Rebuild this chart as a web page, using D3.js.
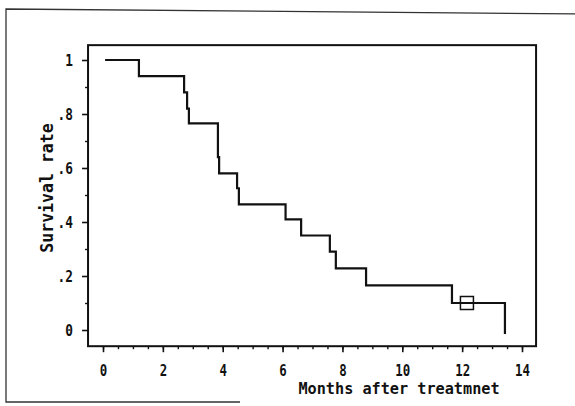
<!DOCTYPE html>
<html>
<head>
<meta charset="utf-8">
<script src="https://cdn.jsdelivr.net/npm/d3@7/dist/d3.min.js"></script>
<style>
  html, body { margin: 0; padding: 0; background: #fff; }
  svg { display: block; }
  text { font-family: "DejaVu Sans Mono", "Liberation Mono", monospace; fill: #111; font-weight: bold; }
</style>
</head>
<body>
<div class="chart"></div>
<script>
// Kaplan-Meier curve
const eventTimes = [0.07, 1.2, 2.71, 2.81, 2.87, 3.84, 3.88, 4.48, 4.54, 6.1, 6.62, 7.58, 7.78, 8.79, 11.66, 13.43];
const survival   = [1.0, 0.94, 0.88, 0.82, 0.765, 0.64, 0.58, 0.525, 0.465, 0.41, 0.35, 0.29, 0.228, 0.165, 0.1, -0.015];
const censorTimes = [12.16];
const censorValues = [0.1];

const xTicks = [0, 2, 4, 6, 8, 10, 12, 14];
const xMinor = d3.range(0, 14.01, 0.5);
const yTicks = [0, 0.2, 0.4, 0.6, 0.8, 1];
const yTickLabels = ['0', '.2', '.4', '.6', '.8', '1'];
const yMinor = [0.1, 0.3, 0.5, 0.7, 0.9];

const svgWidth = 575;
const svgHeight = 406;

const x = d3.scaleLinear().domain([0, 14]).range([103, 522]);
const y = d3.scaleLinear().domain([0, 1]).range([330, 60]);

const boxLeft = x(-0.5), boxRight = x(14.47);
const boxTop = y(1.055), boxBottom = y(-0.06);

const svg = d3.select('.chart')
    .append('svg')
    .attr('width', svgWidth)
    .attr('height', svgHeight);

// outer frame of the scanned figure
svg.append('path')
    .attr('d', `M580,14 L6,9 L6,402 L240,402`)
    .attr('fill', 'none')
    .attr('stroke', '#333')
    .attr('stroke-width', 1.3);

// plot box
svg.append('rect')
    .attr('x', boxLeft)
    .attr('y', boxTop)
    .attr('width', boxRight - boxLeft)
    .attr('height', boxBottom - boxTop)
    .attr('fill', 'none')
    .attr('stroke', '#111')
    .attr('stroke-width', 2);

// x axis
const xAxis = svg.append('g')
    .attr('transform', `translate(0,${boxBottom})`)
    .call(d3.axisBottom(x).tickValues(xTicks).tickSize(6).tickFormat(d3.format('d')));
xAxis.select('.domain').remove();
xAxis.selectAll('line').attr('stroke', '#111').attr('stroke-width', 1.6);
xAxis.selectAll('text')
    .attr('y', 30)
    .attr('dy', 0)
    .attr('transform', 'scale(0.8,1)')
    .style('font-size', '15.5px')
    .attr('fill', '#111');

const xMinorAxis = svg.append('g')
    .attr('transform', `translate(0,${boxBottom})`)
    .call(d3.axisBottom(x).tickValues(xMinor).tickSize(3).tickFormat(''));
xMinorAxis.select('.domain').remove();
xMinorAxis.selectAll('line').attr('stroke', '#111').attr('stroke-width', 1.4);

// y axis
const yAxis = svg.append('g')
    .attr('transform', `translate(${boxLeft},0)`)
    .call(d3.axisLeft(y).tickValues(yTicks).tickSize(6).tickFormat((d, i) => yTickLabels[i]));
yAxis.select('.domain').remove();
yAxis.selectAll('line').attr('stroke', '#111').attr('stroke-width', 1.6);
yAxis.selectAll('text')
    .attr('x', -19)
    .attr('dy', '0.36em')
    .attr('transform', 'scale(0.8,1)')
    .style('font-size', '16px')
    .attr('fill', '#111');

const yMinorAxis = svg.append('g')
    .attr('transform', `translate(${boxLeft},0)`)
    .call(d3.axisLeft(y).tickValues(yMinor).tickSize(3).tickFormat(''));
yMinorAxis.select('.domain').remove();
yMinorAxis.selectAll('line').attr('stroke', '#111').attr('stroke-width', 1.4);

// axis titles
svg.append('text')
    .attr('transform', 'translate(399,394) scale(0.95,1)')
    .attr('text-anchor', 'middle')
    .style('font-size', '16px')
    .text('Months after treatmnet');

svg.append('text')
    .attr('transform', 'translate(53,188) rotate(-90) scale(0.92,1)')
    .attr('text-anchor', 'middle')
    .style('font-size', '18px')
    .text('Survival rate');

// survival curve
const points = eventTimes.map((t, i) => [t, survival[i]]);
const line = d3.line()
    .x(d => x(d[0]))
    .y(d => y(d[1]))
    .curve(d3.curveStepAfter);

svg.append('path')
    .datum(points)
    .attr('d', line)
    .attr('fill', 'none')
    .attr('stroke', '#111')
    .attr('stroke-width', 2.2);

// censored observation marker
svg.selectAll('.censor')
    .data(censorTimes)
    .enter()
    .append('rect')
    .attr('class', 'censor')
    .attr('x', d => x(d) - 6.5)
    .attr('y', (d, i) => y(censorValues[i]) - 6.5)
    .attr('width', 13)
    .attr('height', 13)
    .attr('fill', 'none')
    .attr('stroke', '#111')
    .attr('stroke-width', 1.5);
</script>
</body>
</html>
